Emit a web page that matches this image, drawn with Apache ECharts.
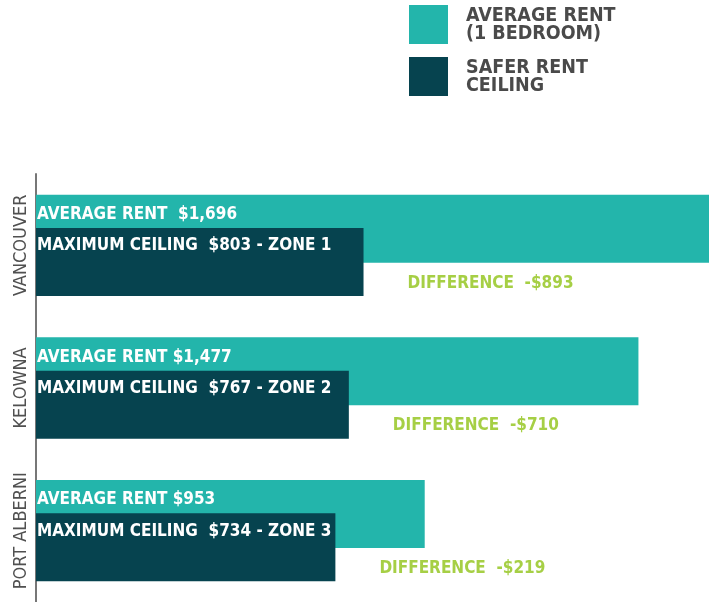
<!DOCTYPE html>
<html><head><meta charset="utf-8">
<script src="https://cdn.jsdelivr.net/npm/echarts@6/dist/echarts.min.js"></script>
<style>html,body{margin:0;padding:0;background:#fff}#c{width:715px;height:602px}</style>
</head><body><div id="c"></div>
<script>
const cities = ['VANCOUVER', 'KELOWNA', 'PORT ALBERNI'];
const averageRent = [1696, 1477, 953];
const saferCeiling = [803, 767, 734];
const zones = ['ZONE 1', 'ZONE 2', 'ZONE 3'];
const avgPrefix = ['AVERAGE RENT  ', 'AVERAGE RENT ', 'AVERAGE RENT '];
const seriesNames = ['AVERAGE RENT\n(1 BEDROOM)', 'SAFER RENT\nCEILING'];

const F = "'DejaVu Sans Condensed', 'Liberation Sans Narrow', 'DejaVu Sans', sans-serif";
const TEAL = '#23b5ab', DARK = '#06434f', GREEN = '#a6cf45', GRAY = '#4a4a4a';
const money = v => '$' + v.toLocaleString('en-US');

const chart = echarts.init(document.getElementById('c'));
chart.setOption({
  animation: false,
  backgroundColor: '#fff',
  legend: {
    orient: 'vertical', left: 409, top: 5, padding: 0, itemWidth: 39, itemHeight: 39, itemGap: 13,
    icon: 'rect', selectedMode: false, data: seriesNames,
    textStyle: {fontSize: 19.5, fontWeight: 'bold', color: GRAY, lineHeight: 18, padding: [0, 0, 0, 13], fontFamily: F}
  },
  grid: {left: 36, right: 6, top: 174, bottom: -4},
  xAxis: {type: 'value', min: 0, max: 1650, show: false},
  yAxis: [
    {type: 'category', data: cities, inverse: true,
     axisLine: {show: true, onZero: false, lineStyle: {color: '#777', width: 2}},
     axisTick: {show: false}, splitLine: {show: false},
     axisLabel: {rotate: 90, interval: 0, hideOverlap: false, fontSize: 18, color: '#505050', margin: 6, fontFamily: F}},
    {type: 'category', data: cities, inverse: true, show: false}
  ],
  series: [
    {name: seriesNames[0], type: 'bar', data: averageRent, barWidth: 68, barGap: '-51%', silent: true,
     itemStyle: {color: TEAL},
     label: {show: true, position: [1, 20], align: 'left', verticalAlign: 'middle', color: '#fff',
       fontWeight: 'bold', fontSize: 17, fontFamily: F,
       formatter: p => avgPrefix[p.dataIndex] + money(p.value)}},
    {name: seriesNames[1], type: 'bar', data: saferCeiling, barWidth: 68, barGap: '-51%', silent: true,
     itemStyle: {color: DARK},
     label: {show: true, position: [1, 18], align: 'left', verticalAlign: 'middle', color: '#fff',
       fontWeight: 'bold', fontSize: 17, fontFamily: F,
       formatter: p => 'MAXIMUM CEILING  ' + money(p.value) + ' - ' + zones[p.dataIndex]}},
    {name: 'diff', type: 'bar', yAxisIndex: 1, data: saferCeiling, barWidth: 68, silent: true,
     itemStyle: {color: 'rgba(0,0,0,0)'},
     label: {show: true, position: 'right', distance: 44, offset: [0, 38], color: GREEN,
       fontWeight: 'bold', fontSize: 17, fontFamily: F,
       formatter: p => 'DIFFERENCE  -' + money(averageRent[p.dataIndex] - saferCeiling[p.dataIndex])}}
  ]
});
</script></body></html>
